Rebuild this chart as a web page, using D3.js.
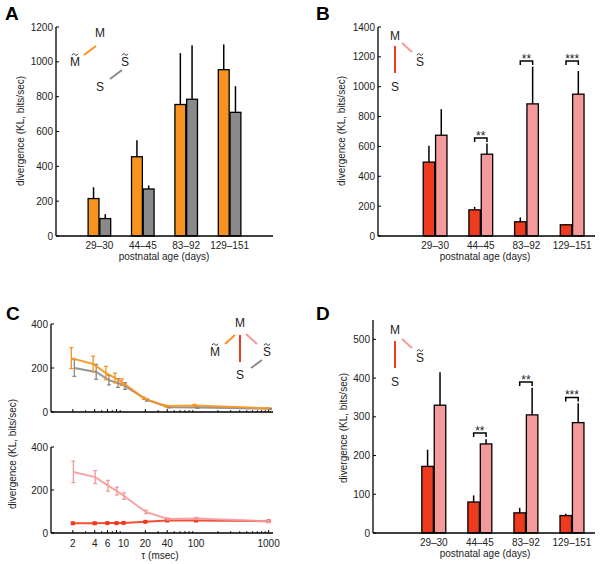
<!DOCTYPE html>
<html>
<head>
<meta charset="utf-8">
<script src="https://cdn.jsdelivr.net/npm/d3@7"></script>
<style>
  body { margin: 0; background: #fff; }
  svg { display: block; font-family: "Liberation Sans", Arial, Helvetica, sans-serif; }
</style>
</head>
<body>
<div id="chart"></div>
<script>
// age groups shared by A, B, D
const ageGroups = ['29–30', '44–45', '83–92', '129–151']

// panel A : M~M (orange) and S~S (gray)
const aMM = [215, 455, 755, 955]
const aMMErr = [65, 95, 295, 145]
const aSS = [100, 270, 785, 710]
const aSSErr = [25, 20, 310, 150]

// panel B : MS (red) and MS~ (pink)
const bMS = [495, 175, 95, 75]
const bMSErr = [110, 20, 30, 5]
const bMSt = [675, 548, 885, 950]
const bMStErr = [175, 72, 250, 155]
const bStars = ['', '**', '**', '***']
const bBracket = [0, 656, 1172, 1172]

// panel D
const dMS = [172, 80, 52, 45]
const dMSErr = [43, 17, 13, 5]
const dMSt = [330, 230, 305, 285]
const dMStErr = [85, 12, 70, 50]
const dStars = ['', '**', '**', '***']
const dBracket = [0, 258, 390, 350]

// panel C : divergence vs tau
const tau = [2, 4, 6, 8, 10, 20, 40, 100, 1000]
const tauLabels = [2, 4, 6, 10, 20, 40, 100, 1000]
const cMM = [245, 218, 177, 155, 136, 62, 27, 30, 17]
const cMMErr = [48, 36, 30, 22, 15, 5, 4, 4, 3]
const cSS = [200, 182, 145, 132, 118, 55, 22, 20, 15]
const cSSErr = [38, 34, 22, 20, 15, 5, 3, 3, 3]
const cMSt = [284, 260, 220, 195, 172, 98, 65, 67, 55]
const cMStErr = [50, 30, 25, 18, 15, 8, 5, 5, 5]
const cMS = [45, 45, 46, 46, 47, 52, 58, 58, 55]
const cMSErr = [4, 4, 3, 3, 3, 3, 3, 3, 3]

const colors = {
  orange: '#f7931e',
  gray: '#8a8a8a',
  red: '#ee3b1f',
  pink: '#f59a9b'
}

const W = 601, H = 564
const svg = d3.select('#chart').append('svg')
  .attr('width', W).attr('height', H)
  .style('background', '#fff')

function panelLetter (txt, x, y) {
  svg.append('text').attr('x', x).attr('y', y)
    .attr('font-size', 19).attr('font-weight', 'bold').text(txt)
}

function yAxis (g, y, x0, ticks, tickFmt) {
  g.append('line').attr('x1', x0).attr('x2', x0)
    .attr('y1', y.range()[0]).attr('y2', y.range()[1])
    .attr('stroke', '#000').attr('stroke-width', 1.3)
  ticks.forEach(t => {
    g.append('line').attr('x1', x0).attr('x2', x0 + 3)
      .attr('y1', y(t)).attr('y2', y(t)).attr('stroke', '#000').attr('stroke-width', 1)
    g.append('text').attr('x', x0 - 3).attr('y', y(t)).attr('dy', '0.35em')
      .attr('text-anchor', 'end').attr('font-size', 10).attr('fill', '#222')
      .text(tickFmt ? tickFmt(t) : t)
  })
}

function yLabel (x, y) {
  svg.append('text').attr('transform', `translate(${x},${y}) rotate(-90)`)
    .attr('text-anchor', 'middle').attr('font-size', 10).attr('fill', '#222')
    .text('divergence (KL, bits/sec)')
}

// symbol, with an optional tilde drawn above it, e.g. S~
function sym (g, txt, x, y, tilde) {
  g.append('text').attr('x', x).attr('y', y).attr('text-anchor', 'middle')
    .attr('font-size', 12).attr('fill', '#222').text(txt)
  if (tilde) {
    const ty = y - 11.5
    g.append('path')
      .attr('d', `M${x - 3},${ty + 0.8}C${x - 2},${ty - 1.2} ${x - 0.8},${ty - 1} ${x},${ty}S${x + 2},${ty + 1.2} ${x + 3},${ty - 0.8}`)
      .attr('fill', 'none').attr('stroke', '#222').attr('stroke-width', 0.9)
  }
}

function seg (g, x1, y1, x2, y2, color) {
  g.append('line').attr('x1', x1).attr('y1', y1).attr('x2', x2).attr('y2', y2)
    .attr('stroke', color).attr('stroke-width', 2)
}

function barPanel (opt) {
  const { xRange, xDomain, yRange, ymax, yTicks, left, right, stars, bracket } = opt
  const g = svg.append('g')
  const x = d3.scaleLinear().domain(xDomain).range(xRange)
  const y = d3.scaleLinear().domain([0, ymax]).range(yRange)
  const bw = 0.25

  const drawSeries = (vals, errs, color, side) => {
    vals.forEach((v, i) => {
      const c = i + 1
      const xl = side < 0 ? x(c - bw - 0.01) : x(c + 0.01)
      const xr = side < 0 ? x(c - 0.01) : x(c + bw + 0.01)
      const xm = (xl + xr) / 2
      g.append('line').attr('x1', xm).attr('x2', xm)
        .attr('y1', y(v)).attr('y2', y(v + errs[i]))
        .attr('stroke', '#000').attr('stroke-width', 1.5)
      g.append('rect').attr('x', xl).attr('y', y(v))
        .attr('width', xr - xl).attr('height', y(0) - y(v))
        .attr('fill', color).attr('stroke', '#000').attr('stroke-width', 1.3)
    })
  }
  drawSeries(left.vals, left.errs, left.color, -1)
  drawSeries(right.vals, right.errs, right.color, 1)

  // significance brackets
  if (stars) {
    stars.forEach((s, i) => {
      if (!s) return
      const c = i + 1
      const xa = x(c - bw / 2 - 0.01), xb = x(c + bw / 2 + 0.01)
      const yb = y(bracket[i])
      g.append('path')
        .attr('d', `M${xa},${yb + 4}L${xa},${yb}L${xb},${yb}L${xb},${yb + 4}`)
        .attr('fill', 'none').attr('stroke', '#000').attr('stroke-width', 1.5)
      g.append('text').attr('x', (xa + xb) / 2).attr('y', yb + 2)
        .attr('text-anchor', 'middle').attr('font-size', 12)
        .attr('fill', '#222').text(s)
    })
  }

  // axes
  g.append('line').attr('x1', xRange[0]).attr('x2', xRange[1])
    .attr('y1', y(0)).attr('y2', y(0)).attr('stroke', '#000').attr('stroke-width', 1.3)
  yAxis(g, y, xRange[0], yTicks)
  ageGroups.forEach((a, i) => {
    g.append('text').attr('x', x(i + 1)).attr('y', y(0) + 13)
      .attr('text-anchor', 'middle').attr('font-size', 10).attr('fill', '#222').text(a)
  })
  g.append('text').attr('x', opt.xLabelX).attr('y', y(0) + 24)
    .attr('text-anchor', 'middle').attr('font-size', 10).attr('fill', '#222')
    .text('postnatal age (days)')
  return g
}

// ---------- A ----------
panelLetter('A', 5, 20)
barPanel({
  xRange: [56, 273], xDomain: [0, 5], yRange: [236, 27], ymax: 1200,
  yTicks: d3.range(0, 1201, 200),
  left: { vals: aMM, errs: aMMErr, color: colors.orange },
  right: { vals: aSS, errs: aSSErr, color: colors.gray },
  xLabelX: 164
})
yLabel(24, 131)
{
  const g = svg.append('g')
  sym(g, 'M', 100, 37, false)
  sym(g, 'M', 75, 66, true)
  seg(g, 84, 55, 96, 46, colors.orange)
  sym(g, 'S', 100, 91, false)
  sym(g, 'S', 125, 66, true)
  seg(g, 110, 79, 122, 70, colors.gray)
}

// ---------- B ----------
panelLetter('B', 316, 20)
barPanel({
  xRange: [378, 595], xDomain: [-0.25, 4.5], yRange: [236, 27], ymax: 1400,
  yTicks: d3.range(0, 1401, 200),
  left: { vals: bMS, errs: bMSErr, color: colors.red },
  right: { vals: bMSt, errs: bMStErr, color: colors.pink },
  stars: bStars, bracket: bBracket,
  xLabelX: 485
})
yLabel(345, 131)
{
  const g = svg.append('g')
  sym(g, 'M', 395, 40, false)
  seg(g, 395, 46, 395, 73, colors.red)
  sym(g, 'S', 395, 91, false)
  seg(g, 402, 43, 412, 52, colors.pink)
  sym(g, 'S', 420, 66, true)
}

// ---------- D ----------
panelLetter('D', 316, 320)
barPanel({
  xRange: [373, 595], xDomain: [-0.32, 4.5], yRange: [533, 320], ymax: 550,
  yTicks: d3.range(0, 501, 100),
  left: { vals: dMS, errs: dMSErr, color: colors.red },
  right: { vals: dMSt, errs: dMStErr, color: colors.pink },
  stars: dStars, bracket: dBracket,
  xLabelX: 485
})
yLabel(347, 428)
{
  const g = svg.append('g')
  sym(g, 'M', 395, 334, false)
  seg(g, 395, 341, 395, 368, colors.red)
  sym(g, 'S', 395, 386, false)
  seg(g, 402, 339, 412, 348, colors.pink)
  sym(g, 'S', 420, 362, true)
}

// ---------- C ----------
panelLetter('C', 6, 320)
{
  const x = d3.scaleLog().domain([1, 1150]).range([51, 273])
  const yTop = d3.scaleLinear().domain([0, 400]).range([412, 324])
  const yBot = d3.scaleLinear().domain([0, 400]).range([533, 447])
  const minor = []
  for (let dec = 1; dec < 1000; dec *= 10) {
    for (let k = 2; k <= 9; k++) minor.push(dec * k)
  }
  minor.push(1000)

  const sub = (y, series, showLabels) => {
    const g = svg.append('g')
    // x axis with ticks pointing up
    g.append('line').attr('x1', 51).attr('x2', 273).attr('y1', y(0)).attr('y2', y(0))
      .attr('stroke', '#000').attr('stroke-width', 1.3)
    minor.forEach(t => {
      const major = tau.includes(t)
      g.append('line').attr('x1', x(t)).attr('x2', x(t))
        .attr('y1', y(0)).attr('y2', y(0) - (major ? 3 : 1.8))
        .attr('stroke', '#000').attr('stroke-width', 1)
    })
    yAxis(g, y, 51, [0, 200, 400])
    if (showLabels) {
      tauLabels.forEach(t => {
        g.append('text').attr('x', x(t)).attr('y', y(0) + 14)
          .attr('text-anchor', 'middle').attr('font-size', 10).attr('fill', '#222').text(t)
      })
    }
    series.forEach(s => {
      const pts = tau.map((t, i) => [x(t) + s.dx, y(s.vals[i])])
      g.append('path').attr('d', d3.line()(pts))
        .attr('fill', 'none').attr('stroke', s.color).attr('stroke-width', 2)
        .attr('stroke-opacity', 0.9)
      tau.forEach((t, i) => {
        const px = x(t) + s.dx
        const y1 = y(s.vals[i] + s.errs[i]), y2 = y(s.vals[i] - s.errs[i])
        g.append('path')
          .attr('d', `M${px},${y1}L${px},${y2}M${px - 2},${y1}L${px + 2},${y1}M${px - 2},${y2}L${px + 2},${y2}`)
          .attr('stroke', s.color).attr('stroke-width', 1.3).attr('fill', 'none')
        if (s.marker) {
          g.append('rect').attr('x', px - 2).attr('y', y(s.vals[i]) - 2)
            .attr('width', 4).attr('height', 4).attr('fill', s.color)
        }
      })
    })
  }

  sub(yTop, [
    { vals: cSS, errs: cSSErr, color: colors.gray, dx: 1.5 },
    { vals: cMM, errs: cMMErr, color: colors.orange, dx: -1.5 }
  ], false)
  sub(yBot, [
    { vals: cMS, errs: cMSErr, color: colors.red, dx: 0, marker: true },
    { vals: cMSt, errs: cMStErr, color: colors.pink, dx: 0.5 }
  ], true)

  svg.append('text').attr('x', 160).attr('y', 559).attr('text-anchor', 'middle')
    .attr('font-size', 10).attr('fill', '#222').text('τ (msec)')
  yLabel(16, 454)

  const g = svg.append('g')
  sym(g, 'M', 240, 327, false)
  sym(g, 'M', 215, 356, true)
  seg(g, 225, 344, 235, 335, colors.orange)
  seg(g, 240, 335, 240, 362, colors.red)
  seg(g, 246, 334, 257, 344, colors.pink)
  sym(g, 'S', 267, 356, true)
  sym(g, 'S', 240, 379, false)
  seg(g, 251, 368, 262, 360, colors.gray)
}
</script>
</body>
</html>
